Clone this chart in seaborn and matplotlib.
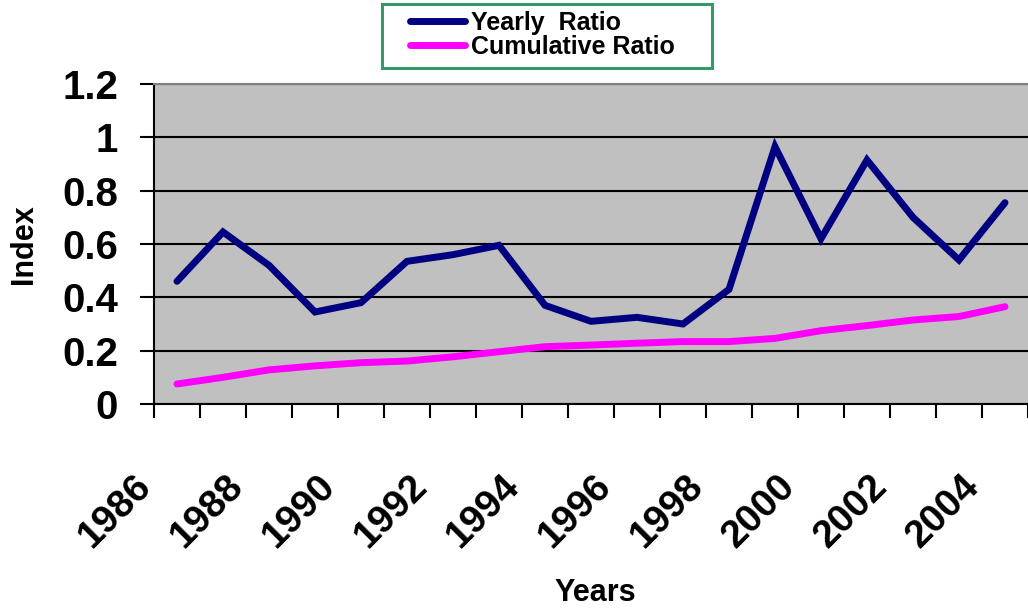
import numpy as np
import pandas as pd
import matplotlib
matplotlib.use("Agg")
import matplotlib.pyplot as plt
import seaborn as sns
from matplotlib.patches import Rectangle
from matplotlib.transforms import ScaledTranslation

# ---- data ----
years = list(range(1986, 2005))
yearly_ratio = [0.46, 0.645, 0.52, 0.345, 0.38, 0.535, 0.56, 0.595, 0.37, 0.31,
                0.325, 0.30, 0.43, 0.965, 0.62, 0.915, 0.70, 0.54, 0.755]
cumulative_ratio = [0.075, 0.10, 0.128, 0.143, 0.155, 0.161, 0.177, 0.196, 0.215, 0.221,
                    0.228, 0.234, 0.234, 0.246, 0.275, 0.294, 0.315, 0.328, 0.365]
series_names = ["Yearly  Ratio", "Cumulative Ratio"]
tick_years = ["1986", "1988", "1990", "1992", "1994", "1996", "1998", "2000", "2002", "2004"]
y_ticks = [0, 0.2, 0.4, 0.6, 0.8, 1.0, 1.2]
y_tick_labels = ["0", "0.2", "0.4", "0.6", "0.8", "1", "1.2"]

df = pd.DataFrame({
    "pos": list(range(len(years))) * 2,
    "year": years * 2,
    "value": yearly_ratio + cumulative_ratio,
    "series": [series_names[0]] * len(years) + [series_names[1]] * len(years),
})

sns.set_theme(style="white")
plt.rcParams["font.family"] = ["Liberation Sans", "DejaVu Sans"]
plt.rcParams["font.weight"] = "bold"
plt.rcParams["text.color"] = "black"

W, H = 1028, 611
fig = plt.figure(figsize=(W / 100, H / 100), dpi=100)
ax = fig.add_axes([154 / W, 1 - 404 / H, 874 / W, 320 / H])
ax.set_facecolor("#C0C0C0")

sns.lineplot(data=df, x="pos", y="value", hue="series", hue_order=series_names,
             palette=["#000080", "#FF00FF"], linewidth=5, ax=ax, legend=False,
             solid_capstyle="round", solid_joinstyle="miter")

ax.set_xlim(-0.5, len(years) - 0.5)
ax.set_ylim(0, 1.2)

ax.set_yticks(y_ticks)
ax.set_yticklabels(y_tick_labels)
major_pos = [years.index(int(t)) for t in tick_years]
ax.set_xticks(major_pos)
ax.set_xticklabels(tick_years)
ax.set_xticks(np.arange(-0.5, len(years), 1.0), minor=True)

ax.tick_params(axis="x", which="major", length=0, pad=55, labelsize=28, labelcolor="black")
ax.tick_params(axis="x", which="minor", length=10, width=1.5, color="black", direction="out", bottom=True)
ax.tick_params(axis="y", length=10, width=1.5, color="black", direction="out", pad=16,
               labelsize=29, labelcolor="black", left=True)

shift = ScaledTranslation(-0.31, 0, fig.dpi_scale_trans)
for lbl in ax.get_xticklabels():
    lbl.set_rotation(45)
    lbl.set_ha("right")
    lbl.set_va("center")
    lbl.set_rotation_mode("anchor")
    lbl.set_transform(lbl.get_transform() + shift)
    lbl.set_fontweight("bold")
for lbl in ax.get_yticklabels():
    lbl.set_fontweight("bold")

ax.yaxis.grid(True, color="black", linewidth=1.5)
ax.xaxis.grid(False)
ax.set_axisbelow(True)

for side in ["left", "bottom"]:
    ax.spines[side].set_color("black")
    ax.spines[side].set_linewidth(1.5)
ax.spines["top"].set_color("#808080")
ax.spines["top"].set_linewidth(1.5)
ax.spines["right"].set_visible(False)

ax.set_ylabel("Index", fontsize=22, fontweight="bold", color="black")
ax.yaxis.set_label_coords(-0.132, 0.5)
ax.set_xlabel("Years", fontsize=22, fontweight="bold", color="black")
ax.xaxis.set_label_coords(0.505, -0.545)
ax.xaxis.label.set_va("top")

# legend frame drawn as a separate box, legend content placed inside it
frame = Rectangle((382 / W, 1 - 68 / H), 330 / W, 64 / H, transform=fig.transFigure,
                  facecolor="white", edgecolor="#339966", linewidth=2.2, zorder=2)
fig.add_artist(frame)

handles = ax.get_lines()[:2]
leg = fig.legend(handles, series_names, loc="upper left",
                 bbox_to_anchor=(410 / W, 1 - 11 / H),
                 prop={"size": 18, "weight": "bold"}, frameon=False,
                 handlelength=2.2, handletextpad=0.25, borderpad=0,
                 borderaxespad=0, labelspacing=0.0)
leg.set_zorder(3)
for t in leg.get_texts():
    t.set_color("black")

fig.savefig("out.png", dpi=100)
